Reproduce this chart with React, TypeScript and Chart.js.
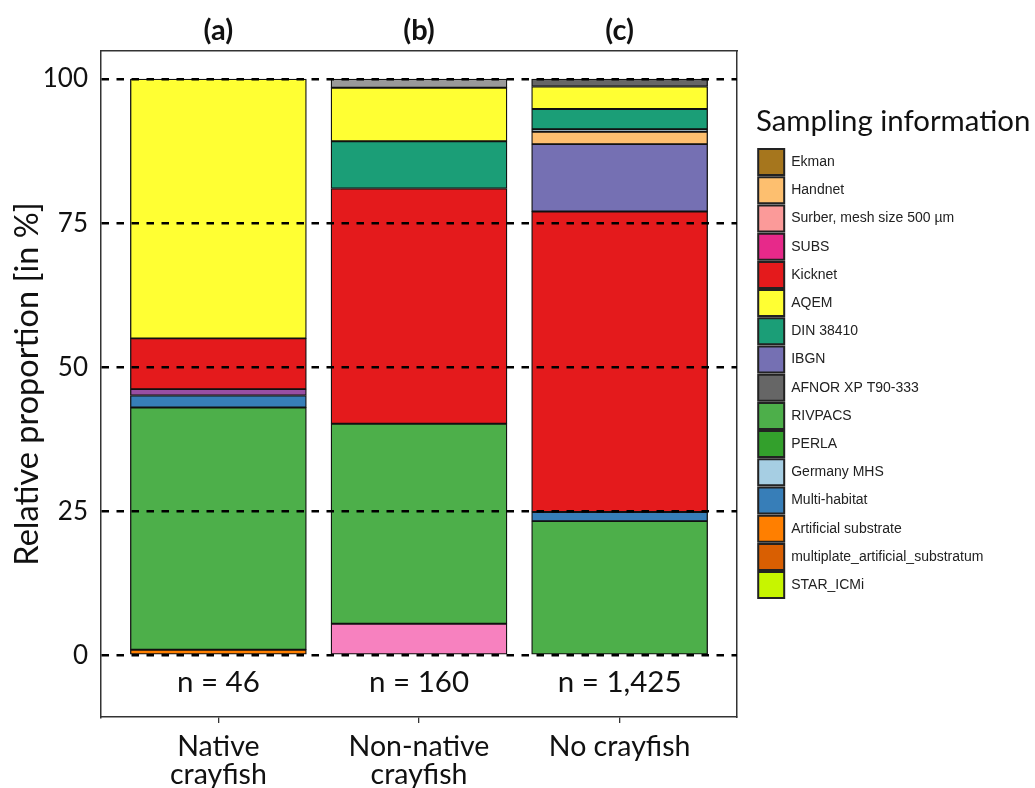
import React, { useEffect, useRef } from 'react';
import { Chart, registerables } from 'chart.js';

Chart.register(...registerables);

// ---------- data ----------
const categoryLines: string[][] = [['Native', 'crayfish'], ['Non-native', 'crayfish'], ['No crayfish']];
const panelLabels = ['(a)', '(b)', '(c)'];
const sampleSizes = ['n = 46', 'n = 160', 'n = 1,425'];
const yTickValues = [0, 25, 50, 75, 100];

const legendOrder = [
  'Ekman', 'Handnet', 'Surber, mesh size 500 µm', 'SUBS', 'Kicknet', 'AQEM', 'DIN 38410', 'IBGN',
  'AFNOR XP T90-333', 'RIVPACS', 'PERLA', 'Germany MHS', 'Multi-habitat', 'Artificial substrate',
  'multiplate_artificial_substratum', 'STAR_ICMi',
];

// values per category [Native, Non-native, No crayfish], stacked bottom -> top
const artificialSubstrate = [1.0, null, null];
const otherPink = [null, 5.5, null];
const rivpacs = [42.0, 34.7, 23.3];
const multiHabitat = [2.1, null, 1.6];
const otherPurple = [1.1, null, null];
const kicknet = [8.8, 40.8, 52.1];
const ibgn = [null, null, 11.7];
const handnet = [null, null, 2.15];
const germanyMHS = [null, null, 0.45];
const din38410 = [null, 8.2, 3.5];
const aqem = [45.0, 9.3, 3.9];
const otherGray = [null, 1.5, null];
const afnor = [null, null, 1.3];
const ekman = [null, null, null];
const surber = [null, null, null];
const subs = [null, null, null];
const perla = [null, null, null];
const multiplate = [null, null, null];
const starIcmi = [null, null, null];

const seriesTable: { label: string; data: (number | null)[]; color: string }[] = [
  { label: 'Artificial substrate', data: artificialSubstrate, color: '#FF7F00' },
  { label: 'Other (pink)', data: otherPink, color: '#F781BF' },
  { label: 'RIVPACS', data: rivpacs, color: '#4DAF4A' },
  { label: 'Multi-habitat', data: multiHabitat, color: '#377EB8' },
  { label: 'Other (purple)', data: otherPurple, color: '#984EA3' },
  { label: 'Kicknet', data: kicknet, color: '#E41A1C' },
  { label: 'IBGN', data: ibgn, color: '#7570B3' },
  { label: 'Handnet', data: handnet, color: '#FDBF6F' },
  { label: 'Germany MHS', data: germanyMHS, color: '#A6CEE3' },
  { label: 'DIN 38410', data: din38410, color: '#1B9E77' },
  { label: 'AQEM', data: aqem, color: '#FFFF33' },
  { label: 'Other (grey)', data: otherGray, color: '#999999' },
  { label: 'AFNOR XP T90-333', data: afnor, color: '#666666' },
  { label: 'Ekman', data: ekman, color: '#A6761D' },
  { label: 'Surber, mesh size 500 µm', data: surber, color: '#FB9A99' },
  { label: 'SUBS', data: subs, color: '#E7298A' },
  { label: 'PERLA', data: perla, color: '#33A02C' },
  { label: 'multiplate_artificial_substratum', data: multiplate, color: '#D95F02' },
  { label: 'STAR_ICMi', data: starIcmi, color: '#C7F500' },
];

const FONT = 'Lato, "Open Sans", sans-serif';
const X_MIN = -0.585;
const X_MAX = 2.585;
const LEGEND_WIDTH = 279;

export default function App() {
  const canvasRef = useRef<HTMLCanvasElement | null>(null);

  useEffect(() => {
    document.body.style.margin = '0';
    const canvas = canvasRef.current;
    if (!canvas) return;

    const nLabelPlugin = {
      id: 'nLabels',
      afterDatasetsDraw(chart: any) {
        const { ctx } = chart;
        const xs = chart.scales.x;
        const ys = chart.scales.y;
        ctx.save();
        ctx.font = `29.5px ${FONT}`;
        ctx.fillStyle = '#111';
        ctx.textAlign = 'center';
        ctx.textBaseline = 'middle';
        sampleSizes.forEach((t, i) => {
          ctx.fillText(t, xs.getPixelForValue(i), ys.getPixelForValue(-4.7));
        });
        ctx.restore();
      },
    };

    const legendWidthPlugin = {
      id: 'legendWidth',
      beforeLayout(chart: any) {
        const lg = chart.legend;
        if (lg && !lg.__patched) {
          const orig = lg.fit;
          lg.fit = function (this: any) {
            orig.call(this);
            this.width = LEGEND_WIDTH;
          };
          lg.__patched = true;
        }
      },
    };

    const chart = new Chart(canvas, {
      type: 'bar',
      data: {
        datasets: seriesTable.map((s) => ({
          label: s.label,
          data: s.data.map((v, i) => ({ x: i, y: v })),
          backgroundColor: s.color,
          borderColor: '#111',
          borderWidth: 1.3,
          borderSkipped: false,
          barThickness: 176,
        })),
      },
      options: {
        responsive: false,
        animation: false,
        devicePixelRatio: 1,
        layout: { padding: { left: 0, right: 0, top: 0, bottom: 0 } },
        plugins: {
          tooltip: { enabled: false },
          legend: {
            position: 'right',
            align: 'start',
            title: {
              display: true,
              text: 'Sampling information',
              position: 'start',
              color: '#111',
              font: { family: FONT, size: 29.4 },
              padding: { top: 107, bottom: 4.6 },
            },
            labels: {
              boxWidth: 26,
              boxHeight: 26,
              padding: 2.2,
              color: '#222',
              font: { family: '"Liberation Sans", Arial, sans-serif', size: 14 },
              filter: (item: any) => legendOrder.includes(item.text),
              sort: (a: any, b: any) => legendOrder.indexOf(a.text) - legendOrder.indexOf(b.text),
              generateLabels: (ch: any) =>
                Chart.defaults.plugins.legend.labels.generateLabels(ch).map((l: any) => ({
                  ...l,
                  lineWidth: 2,
                  strokeStyle: '#222',
                })),
            },
          },
        },
        scales: {
          x: {
            type: 'linear',
            position: 'bottom',
            stacked: true,
            offset: false,
            min: X_MIN,
            max: X_MAX,
            afterBuildTicks: (s: any) => {
              s.ticks = categoryLines.map((_, i) => ({ value: i }));
            },
            afterFit: (s: any) => {
              s.height = 71;
            },
            ticks: {
              callback: (v: any) => categoryLines[v] ?? '',
              color: '#111',
              font: { family: FONT, size: 28.5, lineHeight: 0.98 },
              padding: 10,
              maxRotation: 0,
              autoSkip: false,
            },
            grid: { offset: false, drawOnChartArea: false, drawTicks: true, tickLength: 6, color: '#333', lineWidth: 1.3 },
            border: { display: true, color: '#333', width: 1.5 },
          },
          xTop: {
            type: 'linear',
            position: 'top',
            offset: false,
            min: X_MIN,
            max: X_MAX,
            afterBuildTicks: (s: any) => {
              s.ticks = panelLabels.map((_, i) => ({ value: i }));
            },
            afterFit: (s: any) => {
              s.height = 51;
            },
            ticks: {
              callback: (v: any) => panelLabels[v] ?? '',
              color: '#111',
              font: { family: FONT, size: 29, weight: 'bold' },
              padding: 3,
              maxRotation: 0,
              autoSkip: false,
            },
            grid: { display: false, drawTicks: false, offset: false },
            border: { display: true, color: '#333', width: 1.5 },
          },
          y: {
            type: 'linear',
            position: 'left',
            stacked: true,
            min: -10.68,
            max: 104.86,
            afterBuildTicks: (s: any) => {
              s.ticks = yTickValues.map((v) => ({ value: v }));
            },
            afterFit: (s: any) => {
              s.width = 101;
            },
            ticks: {
              color: '#111',
              font: { family: FONT, size: 26 },
              padding: 13,
            },
            title: {
              display: true,
              text: 'Relative proportion [in %]',
              color: '#111',
              font: { family: FONT, size: 32.5 },
              padding: { top: 8, bottom: 0 },
            },
            grid: { drawTicks: false, tickLength: 0, color: '#000', lineWidth: 2.5, z: 1 },
            border: { display: true, color: '#333', width: 1.5, dash: [7.5, 7.5] },
          },
          yRight: {
            type: 'linear',
            position: 'right',
            min: 0,
            max: 1,
            afterFit: (s: any) => {
              s.width = 19;
            },
            ticks: { display: false },
            grid: { drawOnChartArea: false, drawTicks: false },
            border: { display: true, color: '#333', width: 1.5 },
          },
        },
      } as any,
      plugins: [nLabelPlugin, legendWidthPlugin],
    });

    if ((document as any).fonts && (document as any).fonts.load) {
      Promise.all([
        (document as any).fonts.load(`25px Lato`),
        (document as any).fonts.load(`bold 26px Lato`),
      ]).then(() => chart.update()).catch(() => {});
    }

    return () => chart.destroy();
  }, []);

  return (
    <div style={{ width: 1035, height: 788 }}>
      <canvas ref={canvasRef} width={1035} height={788} style={{ display: 'block' }} />
    </div>
  );
}
